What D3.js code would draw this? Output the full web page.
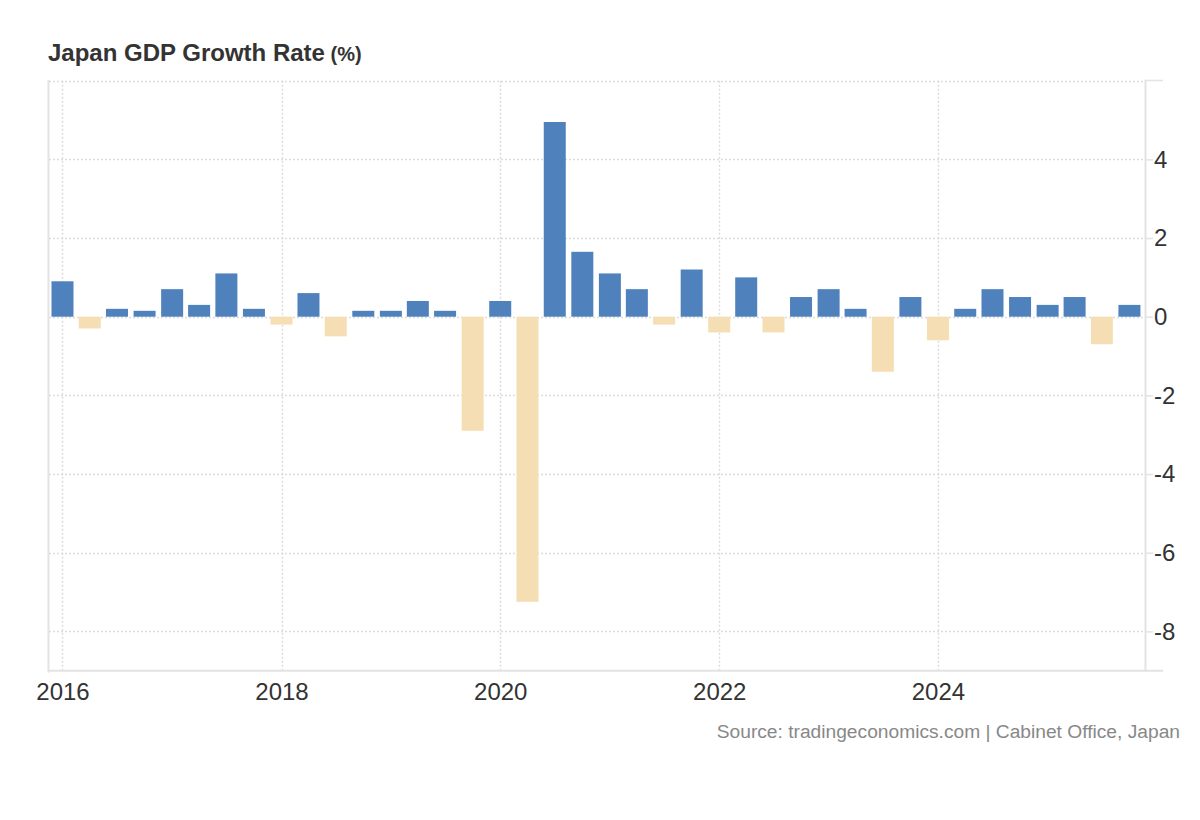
<!DOCTYPE html>
<html>
<head>
<meta charset="utf-8">
<script src="https://cdn.jsdelivr.net/npm/d3@7/dist/d3.min.js"></script>
<style>
  html, body { margin: 0; padding: 0; background: #fff; }
  svg { display: block; font-family: Arial, "Liberation Sans", sans-serif; }
</style>
</head>
<body>
<svg id="chart" width="1200" height="820"></svg>
<script>
// ---- data ----
const quarters = [
  "2016Q1","2016Q2","2016Q3","2016Q4","2017Q1","2017Q2","2017Q3","2017Q4",
  "2018Q1","2018Q2","2018Q3","2018Q4","2019Q1","2019Q2","2019Q3","2019Q4",
  "2020Q1","2020Q2","2020Q3","2020Q4","2021Q1","2021Q2","2021Q3","2021Q4",
  "2022Q1","2022Q2","2022Q3","2022Q4","2023Q1","2023Q2","2023Q3","2023Q4",
  "2024Q1","2024Q2","2024Q3","2024Q4","2025Q1","2025Q2","2025Q3","2025Q4"
];
const growth = [
  0.9, -0.3, 0.2, 0.15, 0.7, 0.3, 1.1, 0.2,
  -0.2, 0.6, -0.5, 0.15, 0.15, 0.4, 0.15, -2.9,
  0.4, -7.25, 4.95, 1.65, 1.1, 0.7, -0.2, 1.2,
  -0.4, 1.0, -0.4, 0.5, 0.7, 0.2, -1.4, 0.5,
  -0.6, 0.2, 0.7, 0.5, 0.3, 0.5, -0.7, 0.3
];
const yTicks = [-8, -6, -4, -2, 0, 2, 4];
const xTickYears = [2016, 2018, 2020, 2022, 2024];
const titleText = "Japan GDP Growth Rate";
const unitText = "(%)";
const sourceText = "Source: tradingeconomics.com | Cabinet Office, Japan";

// ---- layout ----
const plotL = 49, plotR = 1145, plotT = 80.7, plotB = 670.7;
const svg = d3.select("#chart");

const parseQ = s => new Date(+s.slice(0, 4), (+s.slice(5) - 1) * 3, 1);
const data = quarters.map((q, i) => ({ date: parseQ(q), value: growth[i] }));

const x = d3.scaleTime()
  .domain([new Date(2015, 10, 17), new Date(2025, 10, 22)])
  .range([plotL, plotR]);
const y = d3.scaleLinear().domain([-9, 6]).range([plotB, plotT]);

const gridColor = "#dcdcdc";
const axisColor = "#e3e3e3";
const labelFont = "24px";

// horizontal grid (dotted)
svg.append("g").selectAll("line")
  .data(yTicks.concat([6]))
  .join("line")
  .attr("x1", plotL).attr("x2", plotR)
  .attr("y1", d => Math.round(y(d)) + 0.5).attr("y2", d => Math.round(y(d)) + 0.5)
  .attr("stroke", gridColor).attr("stroke-width", 1.5)
  .attr("stroke-dasharray", "2,2");

// vertical grid (dotted) at year ticks
svg.append("g").selectAll("line")
  .data(xTickYears)
  .join("line")
  .attr("x1", d => Math.round(x(new Date(d, 0, 1))) + 0.5)
  .attr("x2", d => Math.round(x(new Date(d, 0, 1))) + 0.5)
  .attr("y1", plotT).attr("y2", plotB)
  .attr("stroke", gridColor).attr("stroke-width", 1.5)
  .attr("stroke-dasharray", "2,2");

// bars
const barW = 22;
svg.append("g").selectAll("rect")
  .data(data)
  .join("rect")
  .attr("x", d => x(d.date) - barW / 2)
  .attr("width", barW)
  .attr("y", d => y(Math.max(0, d.value)))
  .attr("height", d => Math.abs(y(d.value) - y(0)))
  .attr("fill", d => d.value >= 0 ? "#4f81bd" : "#f5deb3");

// left border
svg.append("line")
  .attr("x1", plotL - 0.5).attr("x2", plotL - 0.5)
  .attr("y1", plotT - 1).attr("y2", plotB + 2)
  .attr("stroke", axisColor).attr("stroke-width", 2);

// right y axis
const yAxis = d3.axisRight(y)
  .tickValues(yTicks)
  .tickSize(8)
  .tickPadding(1)
  .tickFormat(d3.format("d"));
const gy = svg.append("g")
  .attr("transform", `translate(${plotR},0)`)
  .call(yAxis);
gy.select(".domain").remove();
gy.selectAll(".tick line").attr("stroke", axisColor).attr("stroke-width", 1.5);
gy.selectAll(".tick text")
  .attr("fill", "#333")
  .attr("font-size", labelFont)
  .attr("font-family", "Arial, 'Liberation Sans', sans-serif")
  .text(d => d < 0 ? "-" + Math.abs(d) : d);
svg.append("line")
  .attr("x1", plotR + 0.5).attr("x2", plotR + 0.5)
  .attr("y1", plotT - 1).attr("y2", plotB + 1)
  .attr("stroke", axisColor).attr("stroke-width", 2);
// top tick extension (no label)
svg.append("line")
  .attr("x1", plotR).attr("x2", 1163)
  .attr("y1", Math.round(y(6)) - 0.5).attr("y2", Math.round(y(6)) - 0.5)
  .attr("stroke", axisColor).attr("stroke-width", 1.5);

// bottom x axis
const xAxis = d3.axisBottom(x)
  .tickValues(xTickYears.map(yr => new Date(yr, 0, 1)))
  .tickSize(0)
  .tickPadding(12)
  .tickFormat(d3.timeFormat("%Y"));
const gx = svg.append("g")
  .attr("transform", `translate(0,${plotB})`)
  .call(xAxis);
gx.select(".domain").remove();
gx.selectAll(".tick text")
  .attr("fill", "#333")
  .attr("font-size", labelFont)
  .attr("font-family", "Arial, 'Liberation Sans', sans-serif");
svg.append("line")
  .attr("x1", plotL).attr("x2", 1163)
  .attr("y1", plotB).attr("y2", plotB)
  .attr("stroke", axisColor).attr("stroke-width", 2);

// title
const title = svg.append("text")
  .attr("x", 48).attr("y", 61)
  .attr("fill", "#333")
  .attr("font-weight", "bold");
title.append("tspan").attr("font-size", "24px").text(titleText);
title.append("tspan").attr("font-size", "20px").text(" " + unitText);

// source
svg.append("text")
  .attr("x", 1180).attr("y", 738)
  .attr("text-anchor", "end")
  .attr("fill", "#888")
  .attr("font-size", "19.2px")
  .text(sourceText);
</script>
</body>
</html>
